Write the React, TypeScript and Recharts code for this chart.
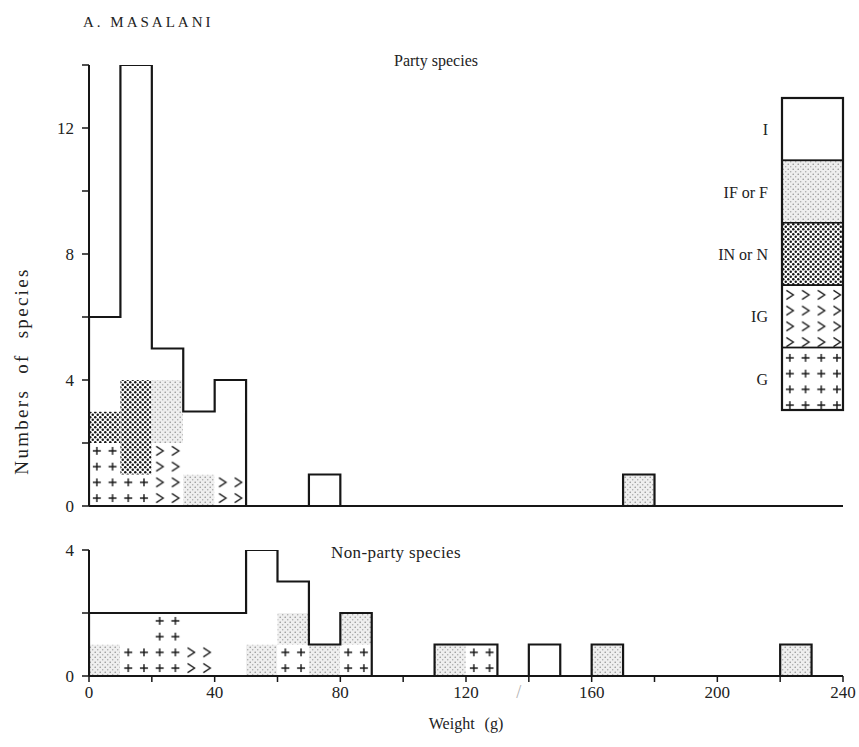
import React from 'react'
import { ComposedChart, Bar, XAxis, YAxis, Scatter } from 'recharts'

// bins are 10 g wide, labelled by their lower edge
const binStarts = [0, 10, 20, 30, 40, 50, 60, 70, 80, 90, 100, 110, 120, 130, 140, 150, 160, 170, 180, 190, 200, 210, 220, 230]

// party species, counts per bin for each diet class
const partyG = [2, 1, 0, 0, 0, 0, 0, 0, 0, 0, 0, 0, 0, 0, 0, 0, 0, 0, 0, 0, 0, 0, 0, 0]
const partyIG = [0, 0, 2, 0, 1, 0, 0, 0, 0, 0, 0, 0, 0, 0, 0, 0, 0, 0, 0, 0, 0, 0, 0, 0]
const partyIN = [1, 3, 0, 0, 0, 0, 0, 0, 0, 0, 0, 0, 0, 0, 0, 0, 0, 0, 0, 0, 0, 0, 0, 0]
const partyIF = [0, 0, 2, 1, 0, 0, 0, 0, 0, 0, 0, 0, 0, 0, 0, 0, 0, 1, 0, 0, 0, 0, 0, 0]
const partyI = [3, 10, 1, 2, 3, 0, 0, 1, 0, 0, 0, 0, 0, 0, 0, 0, 0, 0, 0, 0, 0, 0, 0, 0]

// non-party species
const nonG = [0, 1, 2, 0, 0, 0, 1, 0, 1, 0, 0, 0, 1, 0, 0, 0, 0, 0, 0, 0, 0, 0, 0, 0]
const nonIG = [0, 0, 0, 1, 0, 0, 0, 0, 0, 0, 0, 0, 0, 0, 0, 0, 0, 0, 0, 0, 0, 0, 0, 0]
const nonIN = [0, 0, 0, 0, 0, 0, 0, 0, 0, 0, 0, 0, 0, 0, 0, 0, 0, 0, 0, 0, 0, 0, 0, 0]
const nonIF = [1, 0, 0, 0, 0, 1, 1, 1, 1, 0, 0, 1, 0, 0, 0, 0, 1, 0, 0, 0, 0, 0, 1, 0]
const nonI = [1, 1, 0, 1, 2, 3, 1, 0, 0, 0, 0, 0, 0, 0, 1, 0, 0, 0, 0, 0, 0, 0, 0, 0]

const weightTicks = [0, 20, 40, 60, 80, 100, 120, 140, 160, 180, 200, 220, 240]
const breakTick = 140
const partyTicks = [0, 2, 4, 6, 8, 10, 12, 14]
const nonPartyTicks = [0, 2, 4]

const legendItems = [
  { key: 'I', label: 'I' },
  { key: 'IF', label: 'IF or F' },
  { key: 'IN', label: 'IN or N' },
  { key: 'IG', label: 'IG' },
  { key: 'G', label: 'G' },
]

const SERIF = '"Liberation Serif", "DejaVu Serif", Times, serif'
const INK = '#161616'

// plot geometry (shared by both panels)
const W = 859
const PLOT_LEFT = 89
const PLOT_RIGHT = 843
const CELL_W = (PLOT_RIGHT - PLOT_LEFT) / 48
const CELL_H = 15.75

function buildRows(g: number[], ig: number[], inn: number[], iff: number[], i: number[]) {
  return binStarts.map((b, k) => ({ bin: b, G: g[k], IG: ig[k], IN: inn[k], IF: iff[k], I: i[k] }))
}

// stepped histogram outline around the stack totals
function buildOutline(rows: any[]) {
  const pts = [{ x: 0, y: 0 }]
  rows.forEach((r) => {
    const t = r.G + r.IG + r.IN + r.IF + r.I
    pts.push({ x: r.bin, y: t }, { x: r.bin + 10, y: t })
  })
  pts.push({ x: 240, y: 0 })
  return pts
}

const partyRows = buildRows(partyG, partyIG, partyIN, partyIF, partyI)
const nonRows = buildRows(nonG, nonIG, nonIN, nonIF, nonI)
const partyOutline = buildOutline(partyRows)
const nonOutline = buildOutline(nonRows)

function Patterns({ id, ox, oy }: { id: string; ox: number; oy: number }) {
  const w = CELL_W
  const h = CELL_H
  return (
    <defs>
      <pattern id={`${id}-IF`} patternUnits="userSpaceOnUse" x={ox} y={oy} width={5} height={5}>
        <rect width={5} height={5} fill="#efefef" />
        <circle cx={1.2} cy={1.2} r={0.75} fill="#8c8c8c" />
        <circle cx={3.7} cy={3.7} r={0.75} fill="#a8a8a8" />
      </pattern>
      <pattern id={`${id}-IN`} patternUnits="userSpaceOnUse" x={ox} y={oy} width={5} height={5}>
        <rect width={5} height={5} fill="#fff" />
        <circle cx={1.25} cy={1.25} r={1.25} fill={INK} />
        <circle cx={3.75} cy={3.75} r={1.25} fill={INK} />
      </pattern>
      <pattern id={`${id}-IG`} patternUnits="userSpaceOnUse" x={ox} y={oy} width={w} height={h}>
        <rect width={w} height={h} fill="#fff" />
        <path
          d={`M${w / 2 - 3.5},${h / 2 - 4.5} L${w / 2 + 3.5},${h / 2} L${w / 2 - 3.5},${h / 2 + 4.5}`}
          stroke={INK}
          strokeWidth={1.3}
          fill="none"
        />
      </pattern>
      <pattern id={`${id}-G`} patternUnits="userSpaceOnUse" x={ox} y={oy} width={w} height={h}>
        <rect width={w} height={h} fill="#fff" />
        <path d={`M${w / 2 - 4},${h / 2} h8 M${w / 2},${h / 2 - 4} v8`} stroke={INK} strokeWidth={1.4} />
      </pattern>
    </defs>
  )
}

function WeightTick({ x, y, payload }: any) {
  const v = payload.value
  if (v === breakTick) {
    return (
      <text x={x} y={y} dx={-10} dy={14} textAnchor="middle" fill="#b0b0b0" fontSize={18} fontFamily={SERIF}>
        /
      </text>
    )
  }
  if (v % 40 !== 0) return <g />
  return (
    <text x={x} y={y} dy={14} textAnchor="middle" fill="#222" fontSize={17} fontFamily={SERIF}>
      {v}
    </text>
  )
}

const axisLine = { stroke: INK, strokeWidth: 2 }
const tickLine = { stroke: INK, strokeWidth: 1.5 }
const yTick = { fill: '#222', fontSize: 17, fontFamily: SERIF }
const fourths = (v: number) => (v % 4 === 0 ? String(v) : '')

function Stack({ id }: { id: string }) {
  return (
    <>
      <Bar xAxisId="cat" dataKey="G" stackId="s" fill={`url(#${id}-G)`} isAnimationActive={false} />
      <Bar xAxisId="cat" dataKey="IG" stackId="s" fill={`url(#${id}-IG)`} isAnimationActive={false} />
      <Bar xAxisId="cat" dataKey="IN" stackId="s" fill={`url(#${id}-IN)`} isAnimationActive={false} />
      <Bar xAxisId="cat" dataKey="IF" stackId="s" fill={`url(#${id}-IF)`} isAnimationActive={false} />
      <Bar xAxisId="cat" dataKey="I" stackId="s" fill="#fff" isAnimationActive={false} />
    </>
  )
}

function Overlay() {
  const top = 98
  const h = 62.4
  const left = 782
  const bw = 61
  return (
    <svg width={W} height={747} style={{ position: 'absolute', left: 0, top: 0, pointerEvents: 'none' }}>
      <Patterns id="lg" ox={left} oy={top} />
      {legendItems.map((it, k) => (
        <g key={it.key}>
          <rect
            x={left}
            y={top + k * h}
            width={bw}
            height={h}
            fill={it.key === 'I' ? '#fff' : `url(#lg-${it.key})`}
            stroke={INK}
            strokeWidth={1.6}
          />
          <text
            x={left - 14}
            y={top + k * h + h / 2 + 6}
            textAnchor="end"
            fontSize={16}
            fontFamily={SERIF}
            fill="#222"
          >
            {it.label}
          </text>
        </g>
      ))}
      <rect x={left} y={top} width={bw} height={h * 5} fill="none" stroke={INK} strokeWidth={2.2} />

      <text x={83} y={27} fontSize={15} letterSpacing={3} fontFamily={SERIF} fill="#222">
        A. MASALANI
      </text>
      <text x={436} y={66} textAnchor="middle" fontSize={16} fontFamily={SERIF} fill="#222">
        Party species
      </text>
      <text x={396} y={558} textAnchor="middle" fontSize={17} letterSpacing={0.4} fontFamily={SERIF} fill="#222">
        Non-party species
      </text>
      <text
        x={28}
        y={371}
        transform="rotate(-90 28 371)"
        textAnchor="middle"
        fontSize={19}
        letterSpacing={2.3}
        wordSpacing={8}
        fontFamily={SERIF}
        fill="#222"
      >
        Numbers of species
      </text>
      <text x={466} y={729} textAnchor="middle" fontSize={16} wordSpacing={6} fontFamily={SERIF} fill="#222">
        Weight (g)
      </text>
    </svg>
  )
}

export default function App() {
  const yAxisW = 60
  const topH = 530
  const botTop = 510
  const botH = 237
  return (
    <div style={{ position: 'absolute', left: 0, top: 0, width: W, height: 747, background: '#fff', fontFamily: SERIF }}>
      <div style={{ position: 'absolute', left: 0, top: 0 }}>
        <ComposedChart
          width={W}
          height={topH}
          data={partyRows}
          barCategoryGap={0}
          barGap={0}
          margin={{ top: 65, right: W - PLOT_RIGHT, bottom: 4, left: PLOT_LEFT - yAxisW }}
        >
          <Patterns id="pt" ox={PLOT_LEFT} oy={506} />
          <XAxis xAxisId="cat" dataKey="bin" type="category" hide height={0} />
          <XAxis
            xAxisId="num"
            dataKey="x"
            type="number"
            domain={[0, 240]}
            ticks={weightTicks}
            tick={false}
            height={20}
            axisLine={axisLine}
            tickLine={tickLine}
            tickSize={6}
            allowDataOverflow
          />
          <YAxis
            dataKey="y"
            type="number"
            domain={[0, 14]}
            ticks={partyTicks}
            tickFormatter={fourths}
            width={yAxisW}
            axisLine={axisLine}
            tickLine={tickLine}
            tickSize={7}
            tickMargin={8}
            tick={yTick}
            allowDataOverflow
          />
          {Stack({ id: 'pt' })}
          <Scatter
            xAxisId="num"
            data={partyOutline}
            line={{ stroke: INK, strokeWidth: 2.2 }}
            shape={() => <g />}
            isAnimationActive={false}
          />
        </ComposedChart>
      </div>
      <div style={{ position: 'absolute', left: 0, top: botTop }}>
        <ComposedChart
          width={W}
          height={botH}
          data={nonRows}
          barCategoryGap={0}
          barGap={0}
          margin={{ top: 40, right: W - PLOT_RIGHT, bottom: 11, left: PLOT_LEFT - yAxisW }}
        >
          <Patterns id="np" ox={PLOT_LEFT} oy={166} />
          <XAxis xAxisId="cat" dataKey="bin" type="category" hide height={0} />
          <XAxis
            xAxisId="num"
            dataKey="x"
            type="number"
            domain={[0, 240]}
            ticks={weightTicks}
            tick={<WeightTick />}
            height={60}
            axisLine={axisLine}
            tickLine={tickLine}
            tickSize={6}
            allowDataOverflow
          />
          <YAxis
            dataKey="y"
            type="number"
            domain={[0, 4]}
            ticks={nonPartyTicks}
            tickFormatter={fourths}
            width={yAxisW}
            axisLine={axisLine}
            tickLine={tickLine}
            tickSize={7}
            tickMargin={8}
            tick={yTick}
            allowDataOverflow
          />
          {Stack({ id: 'np' })}
          <Scatter
            xAxisId="num"
            data={nonOutline}
            line={{ stroke: INK, strokeWidth: 2.2 }}
            shape={() => <g />}
            isAnimationActive={false}
          />
        </ComposedChart>
      </div>
      <Overlay />
    </div>
  )
}
